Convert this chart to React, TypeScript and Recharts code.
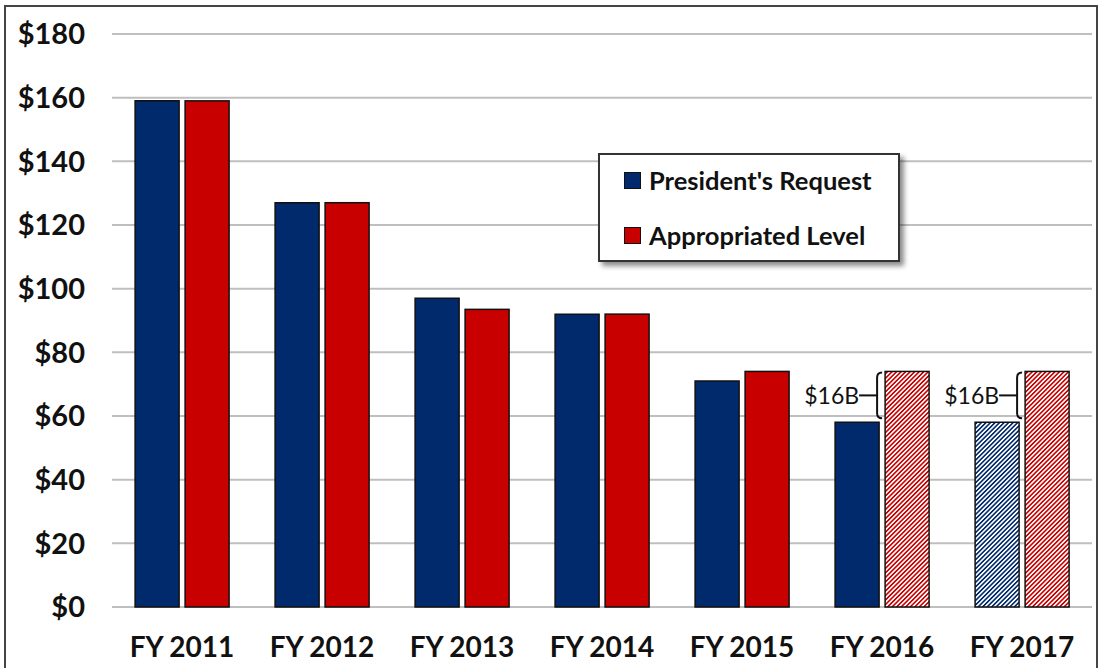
import React from 'react';
import { BarChart, Bar, XAxis, YAxis, CartesianGrid, Legend, Cell } from 'recharts';

const years = ['FY 2011', 'FY 2012', 'FY 2013', 'FY 2014', 'FY 2015', 'FY 2016', 'FY 2017'];
const requested = [159, 127, 97, 92, 71, 58, 58];
const appropriated = [159, 127, 93.5, 92, 74, 74, 74];
const requestedHatched = [false, false, false, false, false, false, true];
const appropriatedHatched = [false, false, false, false, false, true, true];
const gapLabels = ['', '', '', '', '', '$16B', '$16B'];
const yTicks = [0, 20, 40, 60, 80, 100, 120, 140, 160, 180];

const BLUE = '#002a6b';
const RED = '#c80000';
const FONT = 'Lato, "Open Sans", sans-serif';

const data = years.map((year, i) => ({
  year,
  requested: requested[i],
  appropriated: appropriated[i],
  gap: gapLabels[i],
}));

const LegendBox = () => (
  <div
    style={{
      width: 298,
      height: 105,
      border: '2px solid #333',
      background: '#fff',
      boxShadow: '4px 4px 5px rgba(0,0,0,0.45)',
      fontFamily: FONT,
      fontWeight: 700,
      fontSize: 25.5,
      color: '#111',
      boxSizing: 'content-box',
    }}
  >
    {[['President\'s Request', BLUE], ['Appropriated Level', RED]].map(([label, color], i) => (
      <div key={label} style={{ position: 'absolute', left: 26, top: i === 0 ? 12 : 67, display: 'flex', alignItems: 'center' }}>
        <span style={{ width: 15, height: 15, background: color, border: '1.5px solid #111', marginRight: 8, display: 'inline-block' }} />
        <span>{label}</span>
      </div>
    ))}
  </div>
);

const AppropShape = (props: any) => {
  const { x, y, width, height, fill, payload } = props;
  const out = [<rect key="r" x={x} y={y} width={width} height={height} fill={fill} stroke="#111" strokeWidth={1.5} />];
  if (payload && payload.gap) {
    const perUnit = height / payload.appropriated;
    const bottom = y + (payload.appropriated - payload.requested) * perUnit - 4;
    const top = y + 1;
    const bx = x - 8;
    const mid = (top + bottom) / 2;
    out.push(
      <path
        key="b"
        d={`M ${bx + 5} ${top} Q ${bx} ${top} ${bx} ${top + 5} L ${bx} ${bottom - 5} Q ${bx} ${bottom} ${bx + 5} ${bottom}`}
        fill="none"
        stroke="#111"
        strokeWidth={2}
      />,
      <line key="l" x1={bx - 18} y1={mid} x2={bx} y2={mid} stroke="#111" strokeWidth={2} />,
      <text key="t" x={bx - 18} y={mid} textAnchor="end" dominantBaseline="central" fontFamily={FONT} fontSize={23} fill="#111">
        {payload.gap}
      </text>
    );
  }
  return <g>{out}</g>;
};

export default function App() {
  return (
    <div style={{ position: 'absolute', left: 0, top: 0, width: 1098, height: 668, background: '#fff', overflow: 'hidden' }}>
      <div style={{ position: 'absolute', left: 4, top: 5, width: 1090, height: 700, border: '2px solid #444' }} />
      <div style={{ position: 'absolute', left: 0, top: 0 }}>
        <BarChart
          width={1098}
          height={668}
          data={data}
          margin={{ top: 34, right: 6, bottom: 0, left: 0 }}
          barCategoryGap="16.5%"
          barGap={6}
        >
          <defs>
            <pattern id="redHatch" width="3.2" height="3.2" patternUnits="userSpaceOnUse" patternTransform="rotate(45)">
              <rect width="3.2" height="3.2" fill="#fff" />
              <rect width="1.6" height="3.2" fill={RED} />
            </pattern>
            <pattern id="blueHatch" width="3.2" height="3.2" patternUnits="userSpaceOnUse" patternTransform="rotate(45)">
              <rect width="3.2" height="3.2" fill="#fff" />
              <rect width="1.6" height="3.2" fill={BLUE} />
            </pattern>
          </defs>
          <CartesianGrid vertical={false} stroke="#bfbfbf" strokeWidth={2} />
          <XAxis
            dataKey="year"
            height={61}
            axisLine={false}
            tickLine={false}
            tickSize={0}
            tickMargin={30}
            tick={{ fontFamily: FONT, fontWeight: 700, fontSize: 28, fill: '#111' }}
          />
          <YAxis
            width={112}
            domain={[0, 180]}
            ticks={yTicks}
            axisLine={false}
            tickLine={false}
            tickSize={0}
            tickMargin={27}
            tickFormatter={(v) => `$${v}`}
            tick={{ fontFamily: FONT, fontWeight: 700, fontSize: 29, fill: '#111' }}
          />
          <Legend
            layout="vertical"
            align="center"
            verticalAlign="middle"
            content={() => <LegendBox />}
            wrapperStyle={{ position: 'absolute', left: 598, top: 153, width: 302, height: 109 }}
          />
          <Bar dataKey="requested" name="President's Request" isAnimationActive={false} stroke="#111" strokeWidth={1.5}>
            {data.map((d, i) => (
              <Cell key={d.year} fill={requestedHatched[i] ? 'url(#blueHatch)' : BLUE} />
            ))}
          </Bar>
          <Bar
            dataKey="appropriated"
            name="Appropriated Level"
            isAnimationActive={false}
            shape={(p: any) => <AppropShape {...p} fill={appropriatedHatched[p.index] ? 'url(#redHatch)' : RED} />}
          />
        </BarChart>
      </div>
    </div>
  );
}
